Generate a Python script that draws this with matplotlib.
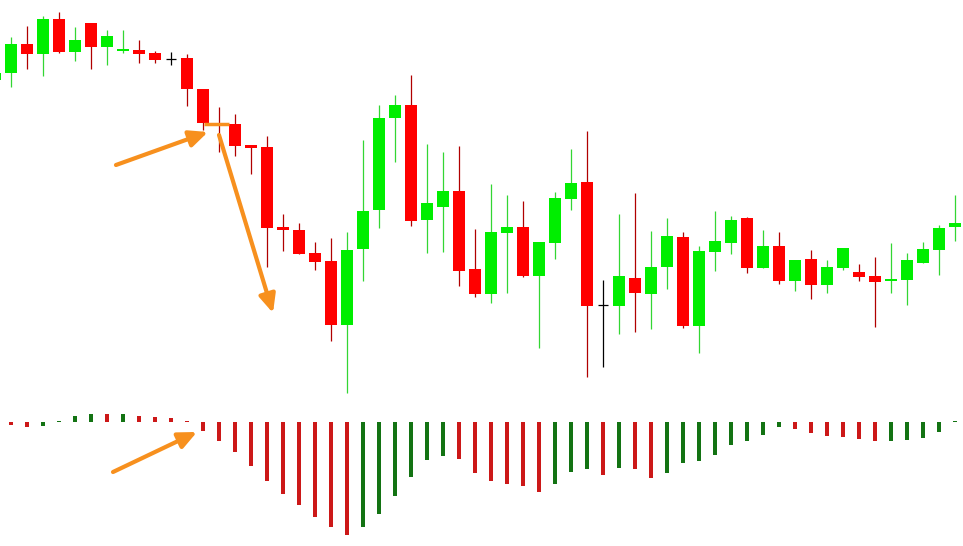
import matplotlib
matplotlib.use("Agg")
import matplotlib.pyplot as plt
import numpy as np

# ---- candle data (price points), index -1 .. 59 ----
idx = list(range(-1, 60))
opens  = [520, 527, 556, 546, 581, 548, 577, 553, 549, 550, 547, 541, 542, 511, 476, 476,
          455, 453, 373, 370, 347, 339, 275, 351, 390, 482, 495, 380, 393, 409, 331,
          306, 367, 373, 324, 357, 401, 418, 295, 294, 322, 306, 333, 363, 274, 348,
          357, 382, 332, 354, 319, 341, 315, 332, 328, 324, 319, 320, 337, 350, 373]
closes = [527, 556, 546, 581, 548, 560, 553, 564, 551, 546, 540, 541, 511, 477, 475, 454,
          452, 372, 370, 346, 338, 275, 350, 389, 482, 495, 379, 397, 409, 329, 306,
          368, 373, 324, 358, 402, 417, 294, 295, 324, 307, 333, 364, 274, 349, 359,
          380, 332, 354, 319, 340, 315, 333, 352, 323, 318, 321, 340, 351, 372, 377]
highs  = [534, 563, 574, 584, 588, 573, 577, 570, 570, 560, 549, 548, 546, 511, 493, 486,
          455, 464, 386, 377, 358, 362, 368, 460, 495, 505, 525, 456, 448, 454, 371,
          416, 405, 399, 358, 408, 451, 469, 320, 386, 407, 369, 382, 368, 354, 389,
          384, 383, 370, 368, 340, 350, 340, 352, 336, 343, 357, 347, 358, 375, 405]
lows   = [510, 513, 531, 524, 547, 539, 531, 535, 547, 537, 537, 535, 494, 470, 448, 444,
          426, 333, 349, 346, 330, 259, 207, 319, 372, 438, 374, 347, 348, 314, 303,
          297, 307, 323, 252, 341, 390, 223, 233, 266, 268, 271, 311, 272, 247, 329,
          346, 327, 332, 316, 309, 301, 307, 330, 319, 273, 307, 295, 337, 325, 359]
doji_black = [10, 37]

# ---- histogram (oscillator) data, index 0 .. 59 ----
hist = [-0.9, -1.6, -1.2, 0.3, 2.0, 2.7, 2.7, 2.7, 2.0, 1.8, 1.3, 0.4, -2.9, -6.2, -9.9,
        -14.6, -19.6, -23.9, -27.6, -31.6, -34.9, -37.6, -34.9, -30.6, -24.6, -18.2,
        -12.7, -11.2, -12.2, -16.9, -19.6, -20.6, -21.2, -23.2, -20.6, -16.6, -15.7,
        -17.6, -15.2, -15.7, -18.6, -16.9, -13.6, -12.9, -10.9, -7.6, -6.2, -4.2, -1.6,
        -2.2, -3.6, -4.6, -4.9, -5.6, -6.2, -6.2, -5.9, -5.2, -3.2, 0.3]
hist_up = "RRGGGGRGRRRR" + "R" * 10 + "G" * 6 + "RR" + "RRRR" + "GGG" + "R" + "G" + "RR" + "G" * 8 + "R" * 6 + "G" * 5

C_UP, C_DN = "#00EE00", "#FF0000"
W_UP, W_DN = "#33D633", "#B00000"
H_UP, H_DN = "#137313", "#CC1818"
ORANGE = "#F7901E"

fig = plt.figure(figsize=(9.63, 5.46), dpi=100)
fig.patch.set_facecolor("white")
ax = fig.add_axes([0, 0, 1, 1])
ax.set_xlim(-0.6875, 59.5)
ax.set_ylim(54, 600)
ax.axis("off")

o = np.array(opens, float); c = np.array(closes, float)
h = np.array(highs, float); l = np.array(lows, float)
for k, i in enumerate(idx):
    if i in doji_black:
        ax.vlines(i, l[k], h[k], color="black", lw=0.9, zorder=2)
        ax.hlines(o[k], i - 0.33, i + 0.33, color="black", lw=0.9, zorder=2)
        continue
    up = c[k] > o[k]
    body_c = C_UP if up else C_DN
    wick_c = W_UP if up else W_DN
    ax.vlines(i, l[k], h[k], color=wick_c, lw=0.9, zorder=2)
    bot = min(o[k], c[k]); ht = max(abs(c[k] - o[k]), 1.6)
    ax.bar(i, ht, bottom=bot, width=0.69, color=body_c, linewidth=0, zorder=3)

# orange highlight on doji and arrows
ax.plot([12.06, 13.6], [476, 476], color=ORANGE, lw=2.5, solid_capstyle="butt", zorder=5)
aprops = dict(arrowstyle="-|>,head_length=0.55,head_width=0.25", color=ORANGE, lw=3,
              shrinkA=0, shrinkB=0, mutation_scale=20)
ax.annotate("", xy=(12.31, 468), xytext=(6.56, 435), arrowprops=aprops, zorder=6)
ax.annotate("", xy=(16.375, 287), xytext=(13.0, 465), arrowprops=aprops, zorder=6)

# histogram axes (zero line at 422 px from the top, 1 unit = 3 px)
ax2 = fig.add_axes([0, 0, 1, 1])
ax2.set_xlim(-0.6875, 59.5)
ax2.set_ylim(-124 / 3, 422 / 3)
ax2.axis("off")
ax2.patch.set_alpha(0)
hx = np.arange(len(hist))
hcols = [H_UP if ch == "G" else H_DN for ch in hist_up]
hv = np.array(hist)
hv = np.where(np.abs(hv) < 0.4, np.sign(hv) * 0.4, hv)
ax2.bar(hx, hv, width=0.25, color=hcols, linewidth=0)
ax2.annotate("", xy=(11.625, -3.33), xytext=(6.375, -16.67), arrowprops=aprops, zorder=6)

fig.savefig("out.png", dpi=100, facecolor="white")
